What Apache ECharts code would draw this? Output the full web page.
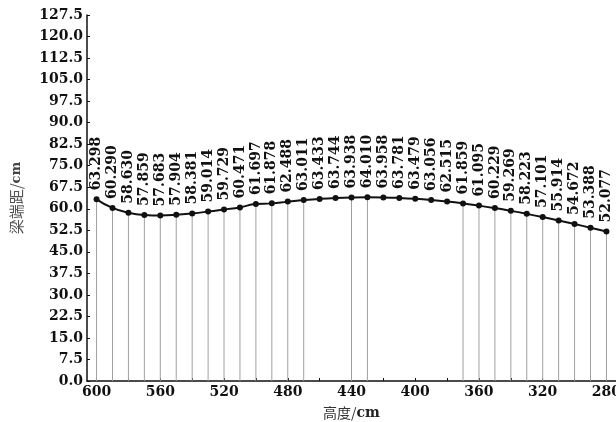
<!DOCTYPE html>
<html>
<head>
<meta charset="utf-8">
<script src="https://cdn.jsdelivr.net/npm/echarts@6/dist/echarts.min.js"></script>
<style>
  html, body { margin: 0; padding: 0; background: #fff; }
  #main { width: 616px; height: 422px; }
</style>
</head>
<body>
<div id="main"></div>
<script>
// 高度 (cm), 每 10 cm 一个点
var heights = [600, 590, 580, 570, 560, 550, 540, 530, 520, 510, 500,
               490, 480, 470, 460, 450, 440, 430, 420, 410, 400, 390,
               380, 370, 360, 350, 340, 330, 320, 310, 300, 290, 280];
// 梁端距 (cm)
var distances = [63.298, 60.290, 58.630, 57.859, 57.683, 57.904, 58.381, 59.014, 59.729, 60.471, 61.697,
                 61.878, 62.488, 63.011, 63.433, 63.744, 63.938, 64.010, 63.958, 63.781, 63.479, 63.056,
                 62.515, 61.859, 61.095, 60.229, 59.269, 58.223, 57.101, 55.914, 54.672, 53.388, 52.077];
// 扫描图里看不到竖线的位置
var dropHidden = [460, 450, 420, 410, 400, 390, 380];
var xLabels = [600, 560, 520, 480, 440, 400, 360, 320, 280];
var xTicks = [600, 580, 560, 540, 520, 500, 480, 460, 440, 420, 400, 380, 360, 340, 320, 300, 280];

var points = heights.map(function (h, i) { return [h, distances[i]]; });
var drops = points.filter(function (p) { return dropHidden.indexOf(p[0]) < 0; });

var numFont = { fontFamily: 'DejaVu Serif', fontWeight: 'bold', fontSize: 14, color: '#111' };

var chart = echarts.init(document.getElementById('main'));
var option = {
    backgroundColor: '#fff',
    animation: false,
    grid: { left: 87, right: 0, top: 15, bottom: 41, outerBoundsMode: 'none' },
    xAxis: {
        type: 'value',
        inverse: true,
        min: 274,
        max: 606,
        name: '高度/{b|cm}',
        nameLocation: 'middle',
        nameGap: 25,
        nameTextStyle: {
            fontFamily: 'Noto Sans CJK SC', fontSize: 14, color: '#333',
            rich: { b: { fontFamily: 'DejaVu Serif', fontWeight: 'bold', fontSize: 14, color: '#222' } }
        },
        axisLine: { lineStyle: { color: '#111', width: 1.5 } },
        axisTick: { inside: true, length: 3, customValues: xTicks, lineStyle: { color: '#111' } },
        axisLabel: Object.assign({ customValues: xLabels, margin: 4 }, numFont),
        splitLine: { show: false }
    },
    yAxis: {
        type: 'value',
        min: 0,
        max: 127.5,
        interval: 7.5,
        name: '梁端距/{b|cm}',
        nameLocation: 'middle',
        nameGap: 63,
        nameRotate: 90,
        nameTextStyle: {
            fontFamily: 'Noto Sans CJK SC', fontSize: 15, color: '#555',
            rich: { b: { fontFamily: 'DejaVu Serif', fontWeight: 'bold', fontSize: 13, color: '#444' } }
        },
        axisLine: { show: true, lineStyle: { color: '#111', width: 1.5 } },
        axisTick: { inside: true, length: 3, lineStyle: { color: '#111' } },
        axisLabel: Object.assign({
            margin: 4,
            formatter: function (v) { return v.toFixed(1); }
        }, numFont),
        splitLine: { show: false }
    },
    series: [
        {
            // 竖直投影线
            type: 'custom',
            data: drops,
            silent: true,
            z: 1,
            renderItem: function (params, api) {
                var top = api.coord([api.value(0), api.value(1)]);
                var bottom = api.coord([api.value(0), 0]);
                return {
                    type: 'line',
                    shape: { x1: top[0], y1: top[1], x2: bottom[0], y2: bottom[1] },
                    style: { stroke: '#a0a0a0', lineWidth: 1 }
                };
            }
        },
        {
            type: 'line',
            data: points,
            smooth: true,
            symbol: 'circle',
            symbolSize: 6,
            itemStyle: { color: '#111' },
            lineStyle: { color: '#111', width: 2 },
            label: Object.assign({
                show: true,
                position: 'top',
                rotate: 90,
                align: 'left',
                verticalAlign: 'middle',
                distance: 2,
                offset: [4, 0],
                formatter: function (p) { return p.value[1].toFixed(3); }
            }, numFont),
            z: 3
        }
    ]
};
chart.setOption(option);
</script>
</body>
</html>
